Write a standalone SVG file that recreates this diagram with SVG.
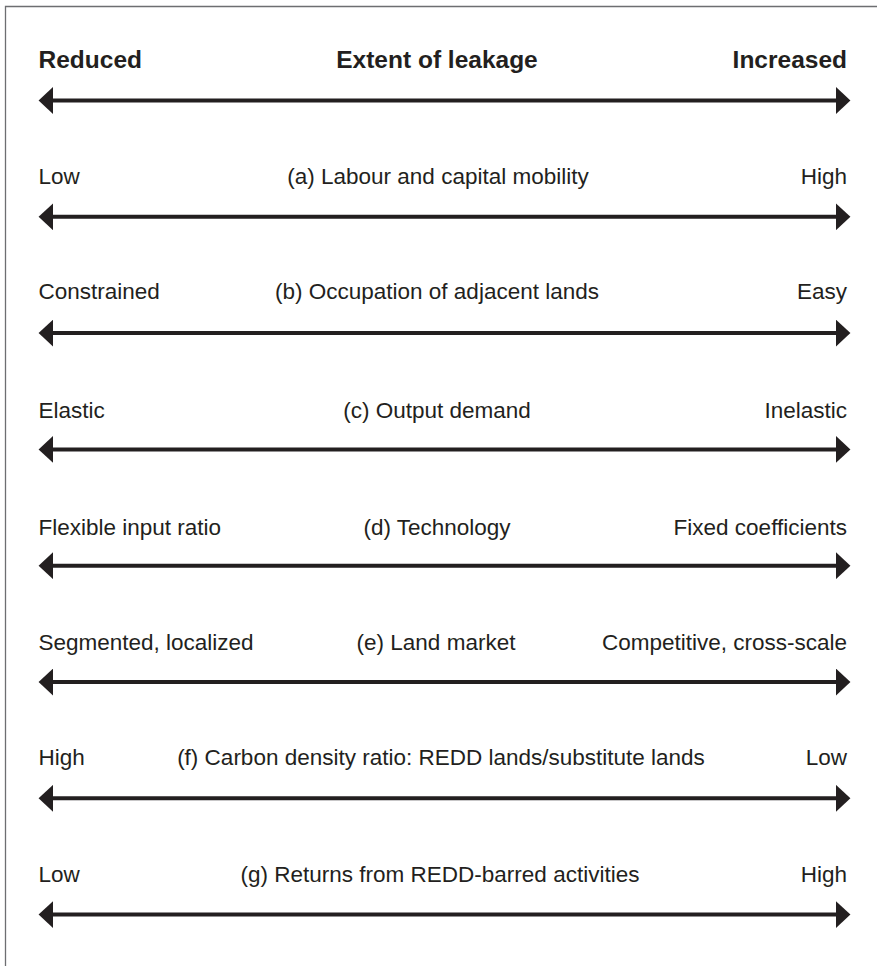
<svg xmlns="http://www.w3.org/2000/svg" width="877" height="966" viewBox="0 0 877 966">
<defs>
<style>
.t{font-family:"Liberation Sans",Arial,sans-serif;font-size:22.5px;fill:#231f20}
.b{font-weight:bold;font-size:24.5px}
.m{text-anchor:middle}
.r{text-anchor:end}
.ax{stroke:#231f20;stroke-width:4;fill:none;marker-start:url(#ah);marker-end:url(#ah)}
</style>
<marker id="ah" markerUnits="userSpaceOnUse" markerWidth="15" markerHeight="27" viewBox="0 0 14 26" refX="3" refY="13" orient="auto-start-reverse">
<path d="M0,0 L14,13 L0,26 Z" fill="#231f20"/>
</marker>
</defs>
<rect width="877" height="966" fill="#fff"/>
<g id="frame"><path d="M5.5,966 V6.5 H877" fill="none" stroke="#6d6e71" stroke-width="1.3"/></g>
<g id="connectors">
<line class="ax" x1="50" y1="100.5" x2="839" y2="100.5"/>
<line class="ax" x1="50" y1="216.8" x2="839" y2="216.8"/>
<line class="ax" x1="50" y1="333.1" x2="839" y2="333.1"/>
<line class="ax" x1="50" y1="449.4" x2="839" y2="449.4"/>
<line class="ax" x1="50" y1="565.7" x2="839" y2="565.7"/>
<line class="ax" x1="50" y1="682" x2="839" y2="682"/>
<line class="ax" x1="50" y1="798.3" x2="839" y2="798.3"/>
<line class="ax" x1="50" y1="914.6" x2="839" y2="914.6"/>
</g>
<g id="header">
<text class="t b" x="38.5" y="68.3">Reduced</text>
<text class="t b m" x="437" y="68.3">Extent of leakage</text>
<text class="t b r" x="847" y="68.3">Increased</text>
</g>
<g id="row-a">
<text class="t" x="38.5" y="183.5">Low</text>
<text class="t m" x="438" y="183.5">(a) Labour and capital mobility</text>
<text class="t r" x="847" y="183.5">High</text>
</g>
<g id="row-b">
<text class="t" x="38.5" y="298.5">Constrained</text>
<text class="t m" x="437" y="298.5">(b) Occupation of adjacent lands</text>
<text class="t r" x="847" y="298.5">Easy</text>
</g>
<g id="row-c">
<text class="t" x="38.5" y="418">Elastic</text>
<text class="t m" x="437" y="418">(c) Output demand</text>
<text class="t r" x="847" y="418">Inelastic</text>
</g>
<g id="row-d">
<text class="t" x="38.5" y="534.5">Flexible input ratio</text>
<text class="t m" x="437" y="534.5">(d) Technology</text>
<text class="t r" x="847" y="534.5">Fixed coefficients</text>
</g>
<g id="row-e">
<text class="t" x="38.5" y="649.5">Segmented, localized</text>
<text class="t m" x="436" y="649.5">(e) Land market</text>
<text class="t r" x="847" y="649.5">Competitive, cross-scale</text>
</g>
<g id="row-f">
<text class="t" x="38.5" y="765">High</text>
<text class="t m" x="441" y="765">(f) Carbon density ratio: REDD lands/substitute lands</text>
<text class="t r" x="847" y="765">Low</text>
</g>
<g id="row-g">
<text class="t" x="38.5" y="881.5">Low</text>
<text class="t m" x="440" y="881.5">(g) Returns from REDD-barred activities</text>
<text class="t r" x="847" y="881.5">High</text>
</g>
</svg>
